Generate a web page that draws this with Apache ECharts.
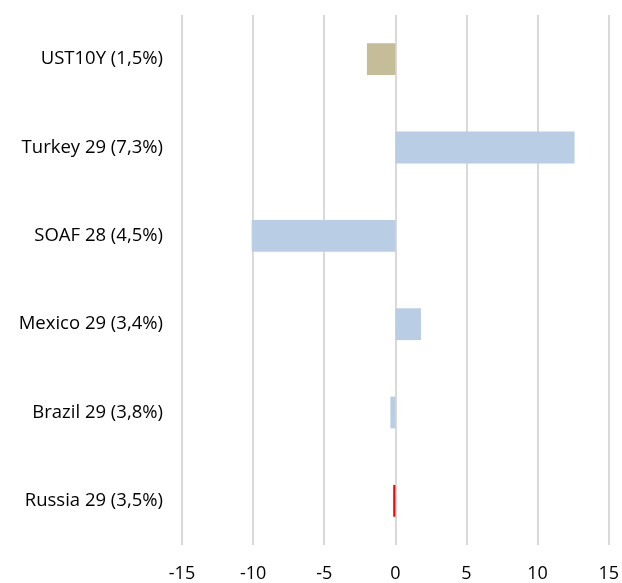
<!DOCTYPE html>
<html>
<head>
<meta charset="utf-8">
<script src="https://cdn.jsdelivr.net/npm/echarts@6/dist/echarts.min.js"></script>
<style>
  html, body { margin: 0; padding: 0; background: #fff; }
  #chart { width: 622px; height: 583px; }
</style>
</head>
<body>
<div id="chart"></div>
<script>
// bottom to top, as echarts lays out a category y axis
const categories = [
  'Russia 29 (3,5%)',
  'Brazil 29 (3,8%)',
  'Mexico 29 (3,4%)',
  'SOAF 28 (4,5%)',
  'Turkey 29 (7,3%)',
  'UST10Y (1,5%)'
]
const values = [-0.15, -0.35, 1.8, -10.1, 12.6, -2.0]
const xTicks = [-15, -10, -5, 0, 5, 10, 15]

const barColors = {
  'Russia 29 (3,5%)': '#FF0000',
  'UST10Y (1,5%)': '#C4BD97'
}
const defaultColor = '#B9CDE5'

const chart = echarts.init(document.getElementById('chart'))

chart.setOption({
  animation: false,
  textStyle: { fontFamily: 'Open Sans' },
  grid: { left: 182, right: 12, top: 15, bottom: 38 },
  xAxis: {
    type: 'value',
    min: xTicks[0],
    max: xTicks[xTicks.length - 1],
    interval: 5,
    axisLine: { show: false },
    axisTick: { show: false },
    axisLabel: { color: '#000', fontSize: 18, margin: 20 },
    splitLine: { lineStyle: { color: '#D9D9D9', width: 2 } }
  },
  yAxis: {
    type: 'category',
    data: categories,
    axisLine: { show: false },
    axisTick: { show: false },
    axisLabel: { color: '#000', fontSize: 18.5, margin: 19 }
  },
  series: [
    {
      type: 'bar',
      barWidth: '36%',
      data: categories.map((c, i) => ({
        value: values[i],
        itemStyle: { color: barColors[c] || defaultColor }
      }))
    }
  ]
})
</script>
</body>
</html>
